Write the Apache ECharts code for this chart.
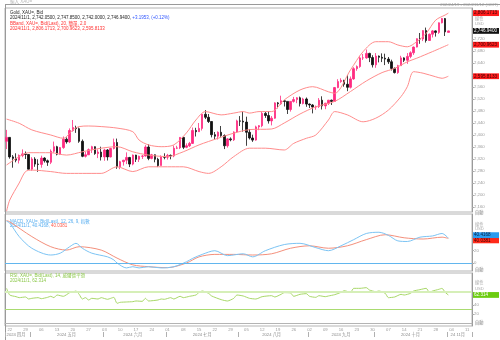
<!DOCTYPE html>
<html><head><meta charset="utf-8">
<script src="https://cdn.jsdelivr.net/npm/echarts@6/dist/echarts.min.js"></script>
<style>html,body{margin:0;padding:0;background:#fff}#c{width:500px;height:340px}</style>
</head><body><div id="c"></div><script>
// Daily XAU= bid, 2024-04-19 .. 2024-11-01, each row [open, close, low, high]
const candles = [
[2379,2392,2353,2417],
[2392,2327,2321,2393],[2327,2322,2291,2333],[2322,2316,2309,2339],[2316,2332,2305,2335],[2332,2337,2326,2352],
[2337,2335,2320,2345],[2335,2286,2285,2336],[2286,2320,2281,2326],[2320,2303,2294,2326],[2303,2302,2277,2319],
[2302,2323,2291,2331],[2323,2314,2308,2326],[2314,2309,2297,2318],[2309,2346,2303,2352],[2346,2361,2341,2378],
[2361,2336,2332,2364],[2336,2358,2334,2360],[2358,2386,2354,2395],[2386,2377,2371,2392],[2377,2415,2373,2422],
[2415,2425,2411,2450],[2425,2421,2407,2431],[2421,2379,2374,2425],[2379,2329,2326,2385],[2329,2334,2325,2344],
[2334,2351,2333,2355],[2351,2361,2340,2364],[2361,2338,2334,2362],[2338,2343,2323,2352],[2343,2327,2315,2361],
[2327,2350,2314,2354],[2350,2327,2315,2353],[2327,2355,2325,2357],[2355,2375,2352,2388],[2375,2294,2287,2388],
[2294,2311,2286,2314],[2311,2316,2298,2317],[2316,2325,2303,2342],[2325,2303,2293,2327],[2303,2333,2299,2335],
[2333,2319,2310,2334],[2319,2329,2310,2331],[2329,2330,2320,2333],[2330,2360,2328,2366],[2360,2322,2316,2369],
[2322,2334,2319,2337],[2334,2319,2309,2335],[2319,2298,2293,2324],[2298,2327,2298,2332],[2327,2326,2319,2339],
[2326,2332,2318,2337],[2332,2330,2319,2335],[2330,2356,2326,2365],[2356,2357,2353,2364],[2357,2392,2353,2393],
[2392,2359,2353,2393],[2359,2364,2356,2372],[2364,2372,2360,2377],[2372,2415,2370,2425],[2415,2411,2395,2424],
[2411,2422,2410,2440],[2422,2469,2415,2469],[2469,2459,2453,2483],[2459,2445,2440,2470],[2445,2401,2392,2446],
[2401,2396,2384,2410],[2396,2409,2385,2412],[2409,2398,2394,2430],[2398,2364,2353,2402],[2364,2387,2358,2390],
[2387,2384,2379,2392],[2384,2410,2380,2412],[2410,2447,2407,2451],[2447,2446,2430,2463],[2446,2443,2411,2478],
[2443,2409,2364,2461],[2409,2390,2385,2420],[2390,2383,2377,2401],[2383,2427,2381,2431],[2427,2431,2416,2433],
[2431,2472,2426,2477],[2472,2465,2457,2477],[2465,2447,2438,2479],[2447,2456,2432,2463],[2456,2507,2454,2509],
[2507,2504,2489,2510],[2504,2514,2500,2531],[2514,2512,2495,2515],[2512,2485,2470,2512],[2485,2512,2478,2513],
[2512,2518,2508,2527],[2518,2524,2506,2526],[2524,2505,2495,2528],[2505,2520,2502,2524],[2520,2503,2494,2525],
[2503,2500,2490,2505],[2500,2493,2472,2503],[2493,2495,2484,2498],[2495,2516,2490,2523],[2516,2497,2485,2529],
[2497,2506,2486,2507],[2506,2516,2500,2517],[2516,2512,2500,2518],[2512,2558,2511,2560],[2558,2578,2556,2586],
[2578,2582,2574,2589],[2582,2569,2561,2584],[2569,2559,2546,2600],[2559,2587,2555,2595],[2587,2621,2584,2626],
[2621,2628,2614,2632],[2628,2657,2624,2664],[2657,2657,2650,2670],[2657,2672,2654,2685],[2672,2658,2643,2674],
[2658,2634,2625,2666],[2634,2663,2624,2673],[2663,2659,2642,2665],[2659,2656,2643,2672],[2656,2653,2633,2671],
[2653,2644,2637,2660],[2644,2622,2615,2651],[2622,2608,2605,2625],[2608,2631,2604,2634],[2631,2657,2630,2664],
[2657,2649,2643,2659],[2649,2662,2637,2673],[2662,2674,2656,2679],[2674,2693,2667,2695],[2693,2721,2692,2722],
[2721,2720,2704,2740],[2720,2748,2713,2749],[2748,2715,2708,2758],[2715,2736,2714,2738],[2736,2747,2725,2750],
[2747,2742,2728,2749],[2742,2774,2737,2775],[2774,2788,2772,2790],[2788,2743.74468,2730,2790],[2742.05,2746.94,2742.00,2747.85]
];

// Bollinger bands (20, 2.0) as [day index, value]
const bbUpper = [[0,2453],[4,2439],[8,2417],[14,2400],[18,2389],[21,2417],[23,2428],[26,2430],[30,2428],[35,2423],[40,2411],[42,2383],[45,2367],[49,2361],[53,2367],[57,2407],[60,2450],[63,2478],[68,2467],[72,2473],[75,2478],[77,2473],[80,2478],[84,2478],[88,2517],[93,2550],[97,2561],[102,2544],[104,2539],[109,2617],[113,2678],[117,2711],[121,2711],[124,2700],[127,2694],[130,2711],[133,2739],[136,2783],[139,2800],[140,2806.1713]];
const bbMiddle = [[0,2300],[4,2328],[7,2341],[14,2341],[19,2333],[24,2344],[30,2356],[35,2361],[40,2344],[45,2333],[51,2328],[56,2344],[61,2367],[67,2389],[72,2406],[77,2418],[84,2420],[88,2440],[93,2470],[98,2494],[104,2512],[109,2545],[114,2580],[119,2608],[123,2622],[127,2644],[130,2656],[135,2678],[140,2700.9623]];
const bbLower = [[0,2146],[1,2183],[4,2240],[6,2278],[8,2283],[14,2278],[19,2272],[24,2272],[30,2272],[35,2294],[40,2278],[45,2294],[51,2294],[56,2294],[61,2278],[64,2272],[68,2294],[72,2328],[77,2356],[82,2356],[88,2350],[91,2372],[95,2389],[98,2400],[102,2450],[104,2478],[108,2467],[113,2444],[117,2456],[121,2483],[125,2528],[127,2561],[129,2611],[132,2606],[136,2594],[138,2589],[140,2595.8133]];

// MACD (12, 26, 9)
const macdLine = [[0,68],[1,65],[4,43],[8,24],[14,13],[17,16],[20,26.5],[22,32],[24,24],[27,16],[32,10],[34,5],[35,0],[38,-8],[40,-6],[42,-8],[45,-6],[49,-8],[53,-6],[57,2],[59,7.6],[62,14],[66,20],[70,12],[75,15],[78,10],[82,20],[88,30],[93,32],[98,25],[102,20],[106,28],[110,38],[114,48],[118,50],[121,45],[124,36],[127,35],[131,42],[135,44],[138,48],[140,40.4168]];
const macdSignal = [[0,69],[1,67],[8,43],[14,26.5],[19,21],[23,26.5],[30,21],[35,8],[40,-3],[45,-6],[51,-7.6],[57,0],[61,10],[66,14],[72,14],[78,13],[84,15],[90,24],[96,28],[102,24],[108,28],[114,38],[120,46],[126,41],[132,39],[138,42],[140,40.0381]];

// RSI (14)
const rsiLine = [[0,77.1],[1,62.2],[3,58.5],[4,56.3],[6,57.8],[7,53.3],[8,54.8],[10,56.3],[11,54.1],[13,57],[14,59.3],[15,56.3],[16,62.2],[18,59.3],[20,67.4],[21,68.9],[22,71.1],[23,63.7],[24,53.3],[25,56.3],[26,51.1],[27,54.8],[29,53.3],[30,56.3],[32,52.6],[33,54.8],[34,57],[35,43.7],[36,45.9],[38,46.7],[40,47.4],[41,48.9],[43,48.1],[44,54.8],[45,48.9],[48,51.1],[49,53.3],[50,52.6],[52,56.3],[53,53.3],[55,59.3],[56,56.3],[58,59.3],[60,62.2],[61,68.1],[62,71.1],[64,65.9],[65,60],[68,51.9],[70,48.9],[72,54.8],[73,62.2],[75,60],[77,54.8],[79,53.3],[81,58.5],[84,60.7],[85,57.8],[87,63.7],[88,67.4],[90,66.7],[91,59.3],[93,63.7],[95,65.2],[96,59.3],[98,57],[99,60.7],[101,58.5],[102,60],[104,63],[106,68.1],[107,71.9],[109,68.1],[110,77],[112,77],[114,78.5],[115,73.3],[117,69.6],[118,71.1],[120,65.9],[121,56.3],[123,57.8],[125,63.7],[126,62.2],[128,65.9],[129,71.1],[131,74.1],[133,77],[134,68.1],[135,71.1],[137,74.8],[138,77],[139,68.1],[140,62.314]];

// axis tick values and labels
const priceTicks = [2160,2200,2240,2280,2320,2360,2400,2440,2480,2520,2560,2600,2640,2680,2720];
const macdTicks = [0,20];
const rsiTicks = [20,40];
const monthNames = ['2024 四月','2024 五月','2024 六月','2024 七月','2024 八月','2024 九月','2024 十月','24 11月'];

// trading-day categories from 2024-04-19 through 2024-11-12
const days = [];
for (let d = new Date(Date.UTC(2024,3,19)); d <= new Date(Date.UTC(2024,10,12)); d.setUTCDate(d.getUTCDate()+1)) {
  const w = d.getUTCDay();
  if (w !== 0 && w !== 6) days.push(d.toISOString().slice(0,10));
}
const monthFirst = new Set(), monthMid = {};
{
  const spans = {};
  days.forEach((d,i)=>{ const m=d.slice(0,7); if(!spans[m]) spans[m]=[i,i]; spans[m][1]=i; });
  Object.keys(spans).forEach((m,k)=>{ monthFirst.add(spans[m][0]); monthMid[Math.floor((spans[m][0]+spans[m][1])/2)] = monthNames[k]; });
}

const FONT = 'Liberation Sans, "Noto Sans CJK TC", sans-serif';
const fmt = (v,n) => v.toLocaleString('en-US',{minimumFractionDigits:n,maximumFractionDigits:n});
const last = a => a[a.length-1];
const lastCandle = last(candles);
const prevClose = candles[candles.length-2][1];
const chg = lastCandle[1]-prevClose;

// value tag drawn at the right end of an invisible horizontal marker
function tag(value, text, bg, fg, dy) {
  return {
    symbol:'none', silent:true, animation:false,
    lineStyle:{color:'rgba(0,0,0,0)', width:1, type:'solid'},
    label:{show:true, position:'end', distance:1, formatter:text, backgroundColor:bg, color:fg,
      fontSize:4.6, fontFamily:FONT, padding:[0.8,1,0.4,1], width:24, offset:[0,dy||0]},
    data:[{yAxis:value}]
  };
}

const grids = [
  {left:5, right:28, top:8, height:204},
  {left:5, right:28, top:214, height:57},
  {left:5, right:28, top:273, height:53}
].map(g=>Object.assign(g,{show:true, borderColor:'#b4b4b4', borderWidth:1, containLabel:false}));

const hiddenX = gi => ({type:'category', gridIndex:gi, data:days, boundaryGap:true, axisLine:{show:false}, axisTick:{show:false}, axisLabel:{show:false}});

const yStyle = (gi, min, max, ticks, fmtFn) => ({
  type:'value', gridIndex:gi, position:'right', min, max, scale:true,
  splitLine:{show:false},
  axisLine:{show:true, lineStyle:{color:'#9a9a9a'}},
  axisTick:{show:true, length:2, customValues:ticks, lineStyle:{color:'#aaa'}},
  axisLabel:{show:true, customValues:ticks, fontSize:4.3, color:'#9a9a9a', margin:2, fontFamily:FONT, formatter:fmtFn}
});

const option = {
  animation:false,
  backgroundColor:'#fff',
  textStyle:{fontFamily:FONT},
  grid:grids,
  xAxis:[
    hiddenX(0), hiddenX(1),
    {type:'category', gridIndex:2, data:days, boundaryGap:true,
      axisLine:{show:true, lineStyle:{color:'#b4b4b4'}}, axisTick:{show:false},
      axisLabel:{show:true, fontSize:4.2, color:'#9a9a9a', margin:2, fontFamily:FONT,
        interval:(i,v)=>new Date(v+'T00:00:00Z').getUTCDay()===1,
        formatter:v=>v.slice(8,10)}},
    {type:'category', gridIndex:2, data:days, boundaryGap:true, position:'bottom', offset:6,
      axisLine:{show:false},
      axisTick:{show:true, length:5, interval:i=>monthFirst.has(i), lineStyle:{color:'#b0b0b0'}},
      axisLabel:{show:true, fontSize:4.2, color:'#8a8a8a', margin:1, fontFamily:FONT,
        interval:i=>monthMid[i]!==undefined, formatter:(v,i)=>monthMid[i]||''}}
  ],
  yAxis:[
    yStyle(0, 2143.3, 2823.3, priceTicks, v=>fmt(v,0)),
    yStyle(1, -13, 79.7, macdTicks, v=>String(v)),
    yStyle(2, -6.7, 111.1, rsiTicks, v=>String(v))
  ],
  series:[
    {type:'candlestick', xAxisIndex:0, yAxisIndex:0, data:candles, barWidth:2,
      itemStyle:{color:'#ff2b80', color0:'#111', borderColor:'#ff2b80', borderColor0:'#111', borderWidth:0.8},
      markLine:tag(lastCandle[1], fmt(lastCandle[1],4), '#111', '#fff')},
    {type:'line', xAxisIndex:0, yAxisIndex:0, data:bbUpper, symbol:'none', smooth:0.3, lineStyle:{color:'#ff8c8c', width:1}, silent:true,
      markLine:tag(last(bbUpper)[1], fmt(last(bbUpper)[1],4), '#ff1c1c', '#3a0000')},
    {type:'line', xAxisIndex:0, yAxisIndex:0, data:bbMiddle, symbol:'none', smooth:0.3, lineStyle:{color:'#ff8c8c', width:1}, silent:true,
      markLine:tag(last(bbMiddle)[1], fmt(last(bbMiddle)[1],4), '#ff1c1c', '#3a0000')},
    {type:'line', xAxisIndex:0, yAxisIndex:0, data:bbLower, symbol:'none', smooth:0.3, lineStyle:{color:'#ff8c8c', width:1}, silent:true,
      markLine:tag(last(bbLower)[1], fmt(last(bbLower)[1],4), '#ff1c1c', '#3a0000')},
    {type:'line', xAxisIndex:1, yAxisIndex:1, data:macdSignal, symbol:'none', smooth:0.3, lineStyle:{color:'#f4907c', width:1}, silent:true,
      markLine:tag(last(macdSignal)[1], fmt(last(macdSignal)[1],4), '#ff2a1a', '#3a0000', 2)},
    {type:'line', xAxisIndex:1, yAxisIndex:1, data:macdLine, symbol:'none', smooth:0.3, lineStyle:{color:'#7cc4f4', width:1}, silent:true,
      markLine:{symbol:'none', silent:true, animation:false, lineStyle:{color:'#62b6ee', width:1, type:'solid'}, label:{show:false}, data:[{yAxis:0}]}},
    {type:'line', xAxisIndex:1, yAxisIndex:1, data:[last(macdLine)], symbol:'none', silent:true,
      markLine:tag(last(macdLine)[1], fmt(last(macdLine)[1],4), '#2b9cf0', '#002040', -3)},
    {type:'line', xAxisIndex:2, yAxisIndex:2, data:rsiLine, symbol:'none', smooth:0.2, lineStyle:{color:'#a8d868', width:1}, silent:true,
      markLine:{symbol:'none', silent:true, animation:false, label:{show:false},
        data:[{yAxis:70, lineStyle:{color:'#d6efb8', width:2, type:'solid'}},{yAxis:30, lineStyle:{color:'#a9db70', width:1, type:'solid'}}]}},
    {type:'line', xAxisIndex:2, yAxisIndex:2, data:[last(rsiLine)], symbol:'none', silent:true,
      markLine:tag(last(rsiLine)[1], fmt(last(rsiLine)[1],3), '#6ccc10', '#fff')}
  ],
  graphic:[
    {type:'text', left:10, top:0, style:{text:'輸入 XAU=', fill:'#b8b8b8', font:'4.5px '+FONT}},
    {type:'text', right:2, top:2.5, style:{text:'2024/4/19 - 2024/11/12 (GMT)', fill:'#a8a8a8', font:'4.3px '+FONT}},
    {type:'text', left:10, top:10.3, style:{text:'Gold, XAU=, Bid', fill:'#222', font:'4.5px '+FONT}},
    {type:'text', left:10, top:15.9, style:{
      text:'{k|'+['2024/11/1',fmt(lastCandle[0],4),fmt(lastCandle[3],4),fmt(lastCandle[2],4),fmt(lastCandle[1],4)].join(', ')+', }{b|+'+fmt(chg,4)+', (+'+(chg/prevClose*100).toFixed(2)+'%)}',
      font:'4.5px '+FONT, rich:{k:{fill:'#222', font:'4.5px '+FONT}, b:{fill:'#2f56ff', font:'4.5px '+FONT}}}},
    {type:'text', left:10, top:21.5, style:{text:'BBand, XAU=, Bid(Last), 20, 簡單, 2.0', fill:'#ff3030', font:'4.5px '+FONT}},
    {type:'text', left:10, top:26.9, style:{text:'2024/11/1, '+[last(bbUpper)[1],last(bbMiddle)[1],last(bbLower)[1]].map(v=>fmt(v,4)).join(', '), fill:'#ff3030', font:'4.5px '+FONT}},
    {type:'text', left:10, top:219.3, style:{text:'MACD, XAU=, Bid(Last), 12, 26, 9, 指數', fill:'#58aef0', font:'4.5px '+FONT}},
    {type:'text', left:10, top:224, style:{text:'{a|2024/11/1, '+fmt(last(macdLine)[1],4)+', }{r|'+fmt(last(macdSignal)[1],4)+'}',
      font:'4.5px '+FONT, rich:{a:{fill:'#58aef0', font:'4.5px '+FONT}, r:{fill:'#ff5a4a', font:'4.5px '+FONT}}}},
    {type:'text', left:10, top:274, style:{text:'RSI, XAU=, Bid(Last), 14, 威爾德平滑', fill:'#8cc84a', font:'4.5px '+FONT}},
    {type:'text', left:10, top:279, style:{text:'2024/11/1, '+fmt(last(rsiLine)[1],3), fill:'#8cc84a', font:'4.5px '+FONT}},
    {type:'text', left:475, top:17, style:{text:'線性', fill:'#aaa', font:'4.2px '+FONT}},
    {type:'text', left:475, top:22, style:{text:'USD', fill:'#aaa', font:'4.2px '+FONT}},
    {type:'text', left:475, top:223, style:{text:'線性', fill:'#aaa', font:'4.2px '+FONT}},
    {type:'text', left:475, top:227, style:{text:'USD', fill:'#aaa', font:'4.2px '+FONT}},
    {type:'text', left:475, top:281, style:{text:'線性', fill:'#aaa', font:'4.2px '+FONT}},
    {type:'text', left:475, top:287, style:{text:'USD', fill:'#aaa', font:'4.2px '+FONT}},
    {type:'text', left:475, top:210.5, style:{text:'自動', fill:'#999', font:'4.2px '+FONT, backgroundColor:'#eee'}},
    {type:'text', left:475, top:268, style:{text:'自動', fill:'#999', font:'4.2px '+FONT, backgroundColor:'#eee'}},
    {type:'text', left:475, top:321, style:{text:'自動', fill:'#999', font:'4.2px '+FONT, backgroundColor:'#eee'}},
    {type:'line', shape:{x1:5.5, y1:4, x2:5.5, y2:340}, style:{stroke:'#9a9a9a', lineWidth:1}},
    {type:'line', shape:{x1:5, y1:4.5, x2:500, y2:4.5}, style:{stroke:'#9a9a9a', lineWidth:1}}
  ]
};
echarts.init(document.getElementById('c'), null, {renderer:'canvas'}).setOption(option);
</script></body></html>
